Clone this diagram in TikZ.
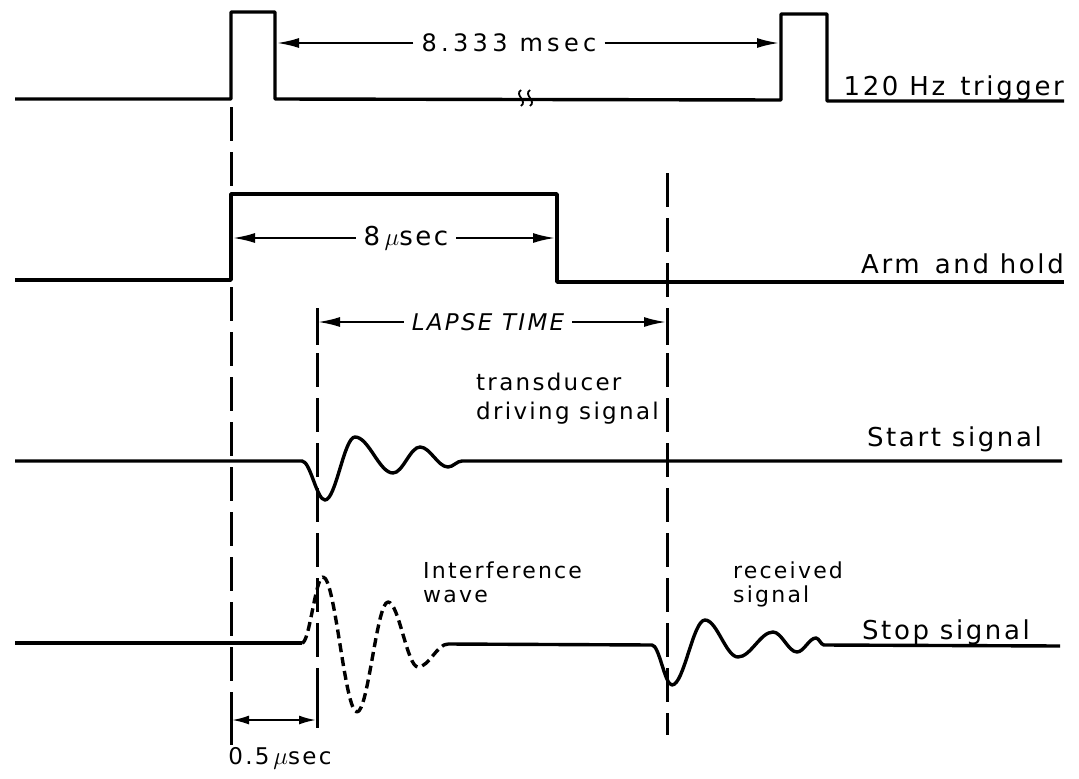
\documentclass[tikz,border=0pt]{standalone}
\usepackage{fontspec}
\setmainfont{DejaVu Sans}
\newfontfamily\lettering[LetterSpace=10]{DejaVu Sans}
\newfontfamily\widelettering[LetterSpace=18]{DejaVu Sans}
\usetikzlibrary{arrows.meta}

\begin{document}
\begin{tikzpicture}[x=1pt,y=-1pt,
    trace/.style={line width=3.4pt, line join=round},
    guide/.style={line width=3pt, dash pattern=on 34pt off 11pt},
    tick/.style={line width=3pt},
    span/.style={line width=2pt, -{Latex[length=22pt,width=10pt]}},
    lbl/.style={inner sep=0pt, font={\lettering\fontsize{23pt}{27pt}\selectfont}},
    sidelbl/.style={lbl, font={\lettering\fontsize{26pt}{30pt}\selectfont}},
    gap/.style={inner xsep=8pt}]
    \useasboundingbox (0,0) rectangle (1079,779);

    % dashed time marks
    \draw[guide] (231,107) -- (231,745);
    \draw[guide] (317,308) -- (317,728);
    \draw[guide] (667,173) -- (667,735);
    \draw[tick] (317,308) -- (317,345);
    \draw[tick] (667,313) -- (667,345);
    \draw[tick] (231,698) -- (231,745);
    \draw[tick] (317,698) -- (317,728);

    % 120 Hz trigger
    \draw[trace] (15,99) -- (231,99) -- (231,12) -- (275,12) -- (275,99) -- (781,100)
        -- (781,14) -- (827,14) -- (827,101) -- (1064,101);
    \foreach \bx in {521,530}
        \draw[line width=1.8pt] (\bx,90) .. controls ({\bx-7},95) and ({\bx+7},101) .. (\bx,106);
    \node[sidelbl, anchor=base east] (trig) at (1064,95) {120 Hz\, trigger};
    \node[gap, inner ysep=0pt, font={\widelettering\fontsize{24pt}{28pt}\selectfont}] (period) at (509,43) {8.333 msec};
    \coordinate (pulseA) at (277,43);
    \coordinate (pulseB) at (779,43);
    \draw[span] (period.west) -- (pulseA);
    \draw[span] (period.east) -- (pulseB);

    % arm and hold
    \draw[trace] (15,280) -- (231,280) -- (231,194) -- (557,194) -- (557,282) -- (1064,282);
    \node[sidelbl, anchor=base east] (arm) at (1064,273) {Arm\, and hold};
    \node[lbl, gap, font={\lettering\fontsize{26pt}{30pt}\selectfont}] (hold) at (406,238) {8\,$\mu$sec};
    \coordinate (armA) at (233,238);
    \coordinate (armB) at (555,238);
    \draw[span] (hold.west) -- (armA);
    \draw[span] (hold.east) -- (armB);

    % lapse time
    \node[lbl, gap, font={\lettering\itshape\fontsize{23pt}{27pt}\selectfont}] (lapse) at (488,322) {LAPSE TIME};
    \coordinate (lapseA) at (318,322);
    \coordinate (lapseB) at (666,322);
    \draw[span] (lapse.west) -- (lapseA);
    \draw[span] (lapse.east) -- (lapseB);

    % start signal
    \draw[trace] (15,461) -- (302,461) cos (313.5,480.5) sin (325,500) cos (340,468.5) sin (355,437)
        cos (374,455) sin (393,473) cos (406.5,460) sin (420,447) cos (434,457) sin (448,467)
        cos (455,464) sin (462,461) -- (1062,461);
    \node[lbl, align=left, anchor=north west, font={\lettering\fontsize{23pt}{29pt}\selectfont}] (driving) at (476,373)
        {transducer\\driving signal};
    \node[sidelbl, anchor=base east] (start) at (1042,446) {Start signal};

    % stop signal
    \draw[trace] (15,643) -- (302,643);
    \draw[trace, dash pattern=on 9pt off 5pt] (302,643) cos (312.5,610) sin (323,577)
        cos (340,644.5) sin (357,712) cos (372.5,657) sin (388,602) cos (403,634.5) sin (418,667)
        cos (433,655.5) sin (448,644);
    \draw[trace] (448,644) -- (652,645) cos (662,665) sin (672,685) cos (688.5,652.5) sin (705,620)
        cos (721.5,638.5) sin (738,657) cos (755.5,644.5) sin (773,632) cos (785,642) sin (797,652)
        cos (806.5,645) sin (816,638) cos (820,641.5) sin (824,645) -- (1060,646);
    \node[lbl, align=left, anchor=north west, font={\lettering\fontsize{22pt}{24pt}\selectfont}] (interf) at (423,562)
        {Interference\\wave};
    \node[lbl, align=left, anchor=north west, font={\lettering\fontsize{22pt}{24pt}\selectfont}] (received) at (733,562)
        {received\\signal};
    \node[sidelbl, anchor=base east] (stop) at (1030,639) {Stop signal};

    % 0.5 usec offset
    \coordinate (offA) at (232,720);
    \coordinate (offB) at (316,720);
    \draw[line width=2pt, {Latex[length=17pt,width=9pt]}-{Latex[length=17pt,width=9pt]}] (offA) -- (offB);
    \node[lbl, anchor=base] (offset) at (280,764) {0.5\,$\mu$sec};
\end{tikzpicture}
\end{document}
